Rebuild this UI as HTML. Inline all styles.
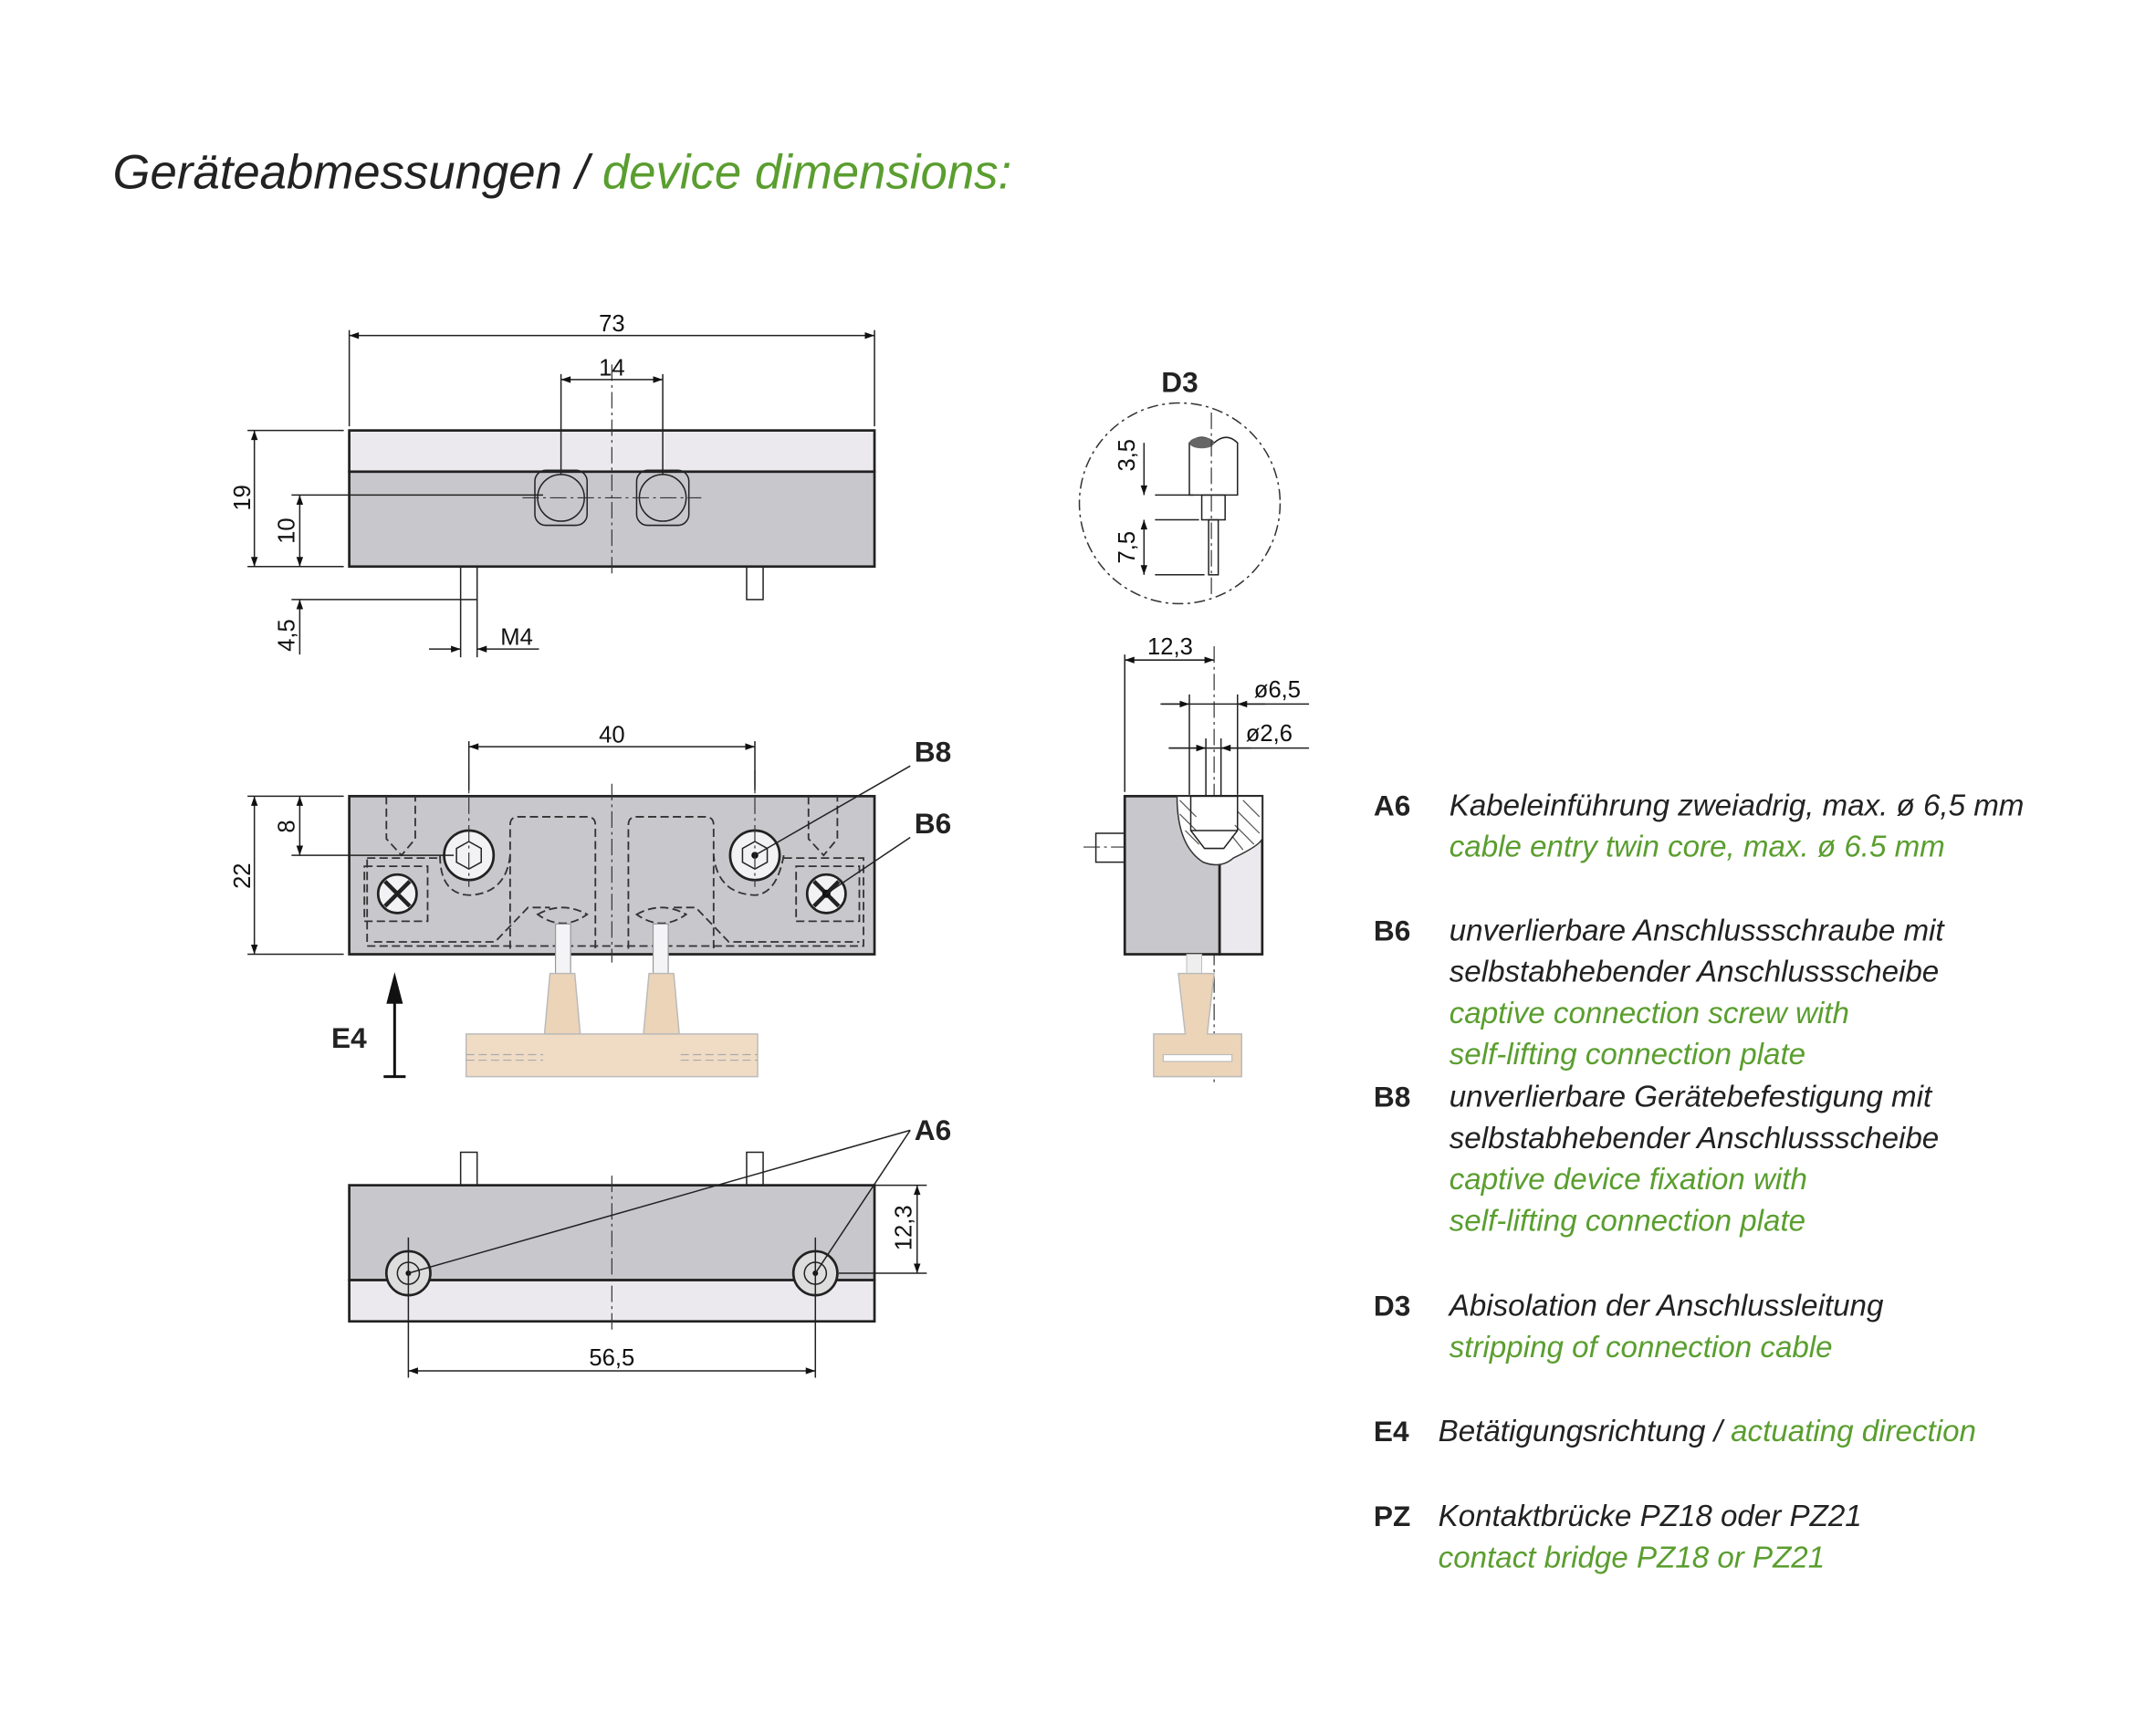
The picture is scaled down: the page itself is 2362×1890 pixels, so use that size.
<!DOCTYPE html>
<html><head><meta charset="utf-8"><style>
html,body{margin:0;padding:0;background:#fff;}
svg{display:block;}
.d{font-family:"Liberation Sans",sans-serif;font-size:17px;fill:#111;}
.k{font-family:"Liberation Sans",sans-serif;font-size:21px;font-weight:bold;fill:#222;}
.lg{font-family:"Liberation Sans",sans-serif;font-size:22px;font-style:italic;fill:#222;}
.gr{fill:#5a9e2f;}
.ol{stroke:#222;stroke-width:1.8;}
.th{stroke:#222;stroke-width:1;fill:none;}
.ds{stroke:#333;stroke-width:1.2;fill:none;stroke-dasharray:6 3;}
.cl{stroke:#333;stroke-width:0.8;fill:none;stroke-dasharray:12 3 2 3;}
</style></head><body>
<svg width="2362" height="1890" viewBox="0 0 1568 1254.5" xmlns="http://www.w3.org/2000/svg">
<defs>
<marker id="a" viewBox="0 0 10 10" refX="10" refY="5" markerWidth="10" markerHeight="7" orient="auto-start-reverse" markerUnits="userSpaceOnUse"><path d="M0,1.5 L10,5 L0,8.5z" fill="#111"/></marker>
</defs>
<text x="82" y="137" font-family="Liberation Sans, sans-serif" font-size="35" font-style="italic" fill="#222">Geräteabmessungen / <tspan class="gr">device dimensions:</tspan></text>

<!-- TOP VIEW -->
<rect x="254" y="313" width="382" height="30" fill="#ebe9ee" class="ol"/>
<rect x="254" y="343" width="382" height="69" fill="#c8c7cc" class="ol"/>
<rect x="389" y="342" width="38" height="40" rx="8" fill="#e4e3e8" class="th"/>
<rect x="463" y="342" width="38" height="40" rx="8" fill="#e4e3e8" class="th"/>
<circle cx="408" cy="362" r="17" fill="#f2f2f4" class="th"/>
<circle cx="482" cy="362" r="17" fill="#f2f2f4" class="th"/>
<rect x="335" y="412" width="12" height="24" fill="#e0e0e3" class="th"/>
<rect x="543" y="412" width="12" height="24" fill="#e0e0e3" class="th"/>
<line x1="445" y1="265" x2="445" y2="420" class="cl"/>
<line x1="380" y1="362" x2="510" y2="362" class="cl"/>
<line x1="254" y1="240" x2="254" y2="310" class="th"/><line x1="636" y1="240" x2="636" y2="310" class="th"/>
<line x1="254" y1="244" x2="636" y2="244" class="th" marker-start="url(#a)" marker-end="url(#a)"/>
<text x="445" y="241" class="d" text-anchor="middle">73</text>
<line x1="408" y1="272" x2="408" y2="345" class="th"/><line x1="482" y1="272" x2="482" y2="345" class="th"/>
<line x1="408" y1="276" x2="482" y2="276" class="th" marker-start="url(#a)" marker-end="url(#a)"/>
<text x="445" y="273" class="d" text-anchor="middle">14</text>
<line x1="180" y1="313" x2="250" y2="313" class="th"/><line x1="180" y1="412" x2="250" y2="412" class="th"/>
<line x1="185" y1="313" x2="185" y2="412" class="th" marker-start="url(#a)" marker-end="url(#a)"/>
<text transform="translate(182,362) rotate(-90)" class="d" text-anchor="middle">19</text>
<line x1="212" y1="360" x2="395" y2="360" class="th"/>
<line x1="218" y1="360" x2="218" y2="412" class="th" marker-start="url(#a)" marker-end="url(#a)"/>
<text transform="translate(214,386) rotate(-90)" class="d" text-anchor="middle">10</text>
<line x1="212" y1="436" x2="335" y2="436" class="th"/>
<line x1="218" y1="436" x2="218" y2="476" class="th" marker-start="url(#a)"/>
<text transform="translate(214,462) rotate(-90)" class="d" text-anchor="middle">4,5</text>
<line x1="335" y1="436" x2="335" y2="478" class="th"/><line x1="347" y1="436" x2="347" y2="478" class="th"/>
<line x1="312" y1="472" x2="335" y2="472" class="th" marker-end="url(#a)"/>
<line x1="392" y1="472" x2="347" y2="472" class="th" marker-end="url(#a)"/>
<text x="364" y="469" class="d">M4</text>

<!-- MIDDLE VIEW -->
<rect x="254" y="579" width="382" height="115" fill="#c8c7cc" class="ol"/>
<path d="M371,690 V600 Q371,594 377,594 H427 Q433,594 433,600 V690" class="ds"/>
<path d="M457,690 V600 Q457,594 463,594 H513 Q519,594 519,600 V690" class="ds"/>
<path d="M320,622 Q320,650 341,651 Q368,650 371,622" class="ds"/>
<path d="M570,622 Q565,650 549,651 Q522,650 519,622" class="ds"/>
<path d="M281,579 V610 L292,622 L302,610 V579" class="ds"/>
<path d="M588,579 V610 L599,622 L609,610 V579" class="ds"/>
<path d="M267,624 H320 M570,624 H628 V688 H267 V624" class="ds"/>
<path d="M272,685 H360 L384,660 H400 M490,660 H506 L530,685 H625" class="ds"/>
<rect x="265" y="630" width="46" height="40" class="ds"/>
<rect x="579" y="630" width="46" height="40" class="ds"/>
<circle cx="341" cy="622" r="18" fill="#f2f2f4" class="ol"/>
<polygon points="341,612 350,617 350,627 341,632 332,627 332,617" fill="none" class="th"/>
<circle cx="549" cy="622" r="18" fill="#f2f2f4" class="ol"/>
<polygon points="549,612 558,617 558,627 549,632 540,627 540,617" fill="none" class="th"/>
<circle cx="549" cy="622" r="2.5" fill="#111"/>
<circle cx="289" cy="650" r="14" fill="#f2f2f4" class="ol"/>
<path d="M280,641 L298,659 M298,641 L280,659" stroke="#222" stroke-width="3"/>
<circle cx="601" cy="650" r="14" fill="#f2f2f4" class="ol"/>
<path d="M592,641 L610,659 M610,641 L592,659" stroke="#222" stroke-width="3"/>
<circle cx="601" cy="650" r="3" fill="#111"/>
<path d="M391,665 Q409,655 427,665 Q409,678 391,665z" fill="#c8c7cc" class="ds"/>
<path d="M463,665 Q481,655 499,665 Q481,678 463,665z" fill="#c8c7cc" class="ds"/>
<rect x="404" y="672" width="11" height="36" fill="#f4f4f6" stroke="#999" stroke-width="0.8"/>
<rect x="475" y="672" width="11" height="36" fill="#f4f4f6" stroke="#999" stroke-width="0.8"/>
<line x1="445" y1="570" x2="445" y2="700" class="cl"/>
<line x1="341" y1="560" x2="341" y2="645" class="cl"/><line x1="549" y1="560" x2="549" y2="645" class="cl"/>
<path d="M400,708 H418 L422,752 H396z" fill="#ecd4b8" stroke="#bbb" stroke-width="1"/>
<path d="M472,708 H490 L494,752 H468z" fill="#ecd4b8" stroke="#bbb" stroke-width="1"/>
<rect x="339" y="752" width="212" height="31" fill="#f0dcc5" stroke="#bbb" stroke-width="1"/>
<path d="M339,767 H395 M339,771 H395 M495,767 H551 M495,771 H551" stroke="#aaa" stroke-width="0.8" stroke-dasharray="6 3"/>
<line x1="287" y1="783" x2="287" y2="725" stroke="#111" stroke-width="2"/>
<path d="M281,730 L287,707 L293,730z" fill="#111"/>
<line x1="279" y1="783" x2="295" y2="783" stroke="#111" stroke-width="2"/>
<text x="241" y="762" class="k">E4</text>
<line x1="341" y1="539" x2="341" y2="575" class="th"/><line x1="549" y1="539" x2="549" y2="575" class="th"/>
<line x1="341" y1="543" x2="549" y2="543" class="th" marker-start="url(#a)" marker-end="url(#a)"/>
<text x="445" y="540" class="d" text-anchor="middle">40</text>
<line x1="180" y1="579" x2="250" y2="579" class="th"/><line x1="180" y1="694" x2="250" y2="694" class="th"/>
<line x1="185" y1="579" x2="185" y2="694" class="th" marker-start="url(#a)" marker-end="url(#a)"/>
<text transform="translate(182,637) rotate(-90)" class="d" text-anchor="middle">22</text>
<line x1="212" y1="622" x2="330" y2="622" class="th"/>
<line x1="218" y1="579" x2="218" y2="622" class="th" marker-start="url(#a)" marker-end="url(#a)"/>
<text transform="translate(214,601) rotate(-90)" class="d" text-anchor="middle">8</text>
<text x="665" y="554" class="k">B8</text>
<text x="665" y="606" class="k">B6</text>
<line x1="662" y1="557" x2="549" y2="622" class="th"/>
<line x1="662" y1="609" x2="601" y2="650" class="th"/>

<!-- BOTTOM VIEW -->
<rect x="335" y="838" width="12" height="24" fill="#e0e0e3" class="th"/>
<rect x="543" y="838" width="12" height="24" fill="#e0e0e3" class="th"/>
<rect x="254" y="862" width="382" height="69" fill="#c8c7cc" class="ol"/>
<rect x="254" y="931" width="382" height="30" fill="#ebe9ee" class="ol"/>
<circle cx="297" cy="926" r="16" fill="#ddd" class="ol"/><circle cx="297" cy="926" r="8" fill="#f2f2f4" class="th"/><circle cx="297" cy="926" r="2" fill="#111"/>
<circle cx="593" cy="926" r="16" fill="#ddd" class="ol"/><circle cx="593" cy="926" r="8" fill="#f2f2f4" class="th"/><circle cx="593" cy="926" r="2" fill="#111"/>
<line x1="445" y1="855" x2="445" y2="968" class="cl"/>
<line x1="297" y1="900" x2="297" y2="1002" class="th"/><line x1="593" y1="900" x2="593" y2="1002" class="th"/>
<line x1="297" y1="997" x2="593" y2="997" class="th" marker-start="url(#a)" marker-end="url(#a)"/>
<text x="445" y="993" class="d" text-anchor="middle">56,5</text>
<line x1="636" y1="862" x2="674" y2="862" class="th"/><line x1="610" y1="926" x2="674" y2="926" class="th"/>
<line x1="667" y1="862" x2="667" y2="926" class="th" marker-start="url(#a)" marker-end="url(#a)"/>
<text transform="translate(663,893) rotate(-90)" class="d" text-anchor="middle">12,3</text>
<text x="665" y="829" class="k">A6</text>
<line x1="662" y1="822" x2="297" y2="926" class="th"/>
<line x1="662" y1="822" x2="593" y2="926" class="th"/>

<!-- D3 DETAIL -->
<text x="858" y="285" class="k" text-anchor="middle">D3</text>
<circle cx="858" cy="366" r="73" fill="none" stroke="#333" stroke-width="1" stroke-dasharray="8 3 2 3"/>
<path d="M865,322 Q874,314 883,322 Q892,314 900,322 V360 H865z" fill="#c8c7cc" class="th"/>
<ellipse cx="874" cy="322" rx="9" ry="4" fill="#666"/>
<rect x="874" y="360" width="17" height="18" fill="#c8c7cc" class="th"/>
<rect x="879" y="378" width="7" height="40" fill="#ddd" class="th"/>
<line x1="881" y1="300" x2="881" y2="435" class="cl"/>
<line x1="840" y1="360" x2="868" y2="360" class="th"/><line x1="840" y1="378" x2="872" y2="378" class="th"/><line x1="840" y1="418" x2="876" y2="418" class="th"/>
<line x1="832" y1="322" x2="832" y2="360" class="th" marker-end="url(#a)"/>
<line x1="832" y1="378" x2="832" y2="418" class="th" marker-start="url(#a)" marker-end="url(#a)"/>
<text transform="translate(825,331) rotate(-90)" class="d" text-anchor="middle">3,5</text>
<text transform="translate(825,398) rotate(-90)" class="d" text-anchor="middle">7,5</text>

<!-- SIDE VIEW -->
<line x1="818" y1="476" x2="818" y2="576" class="th"/>
<line x1="818" y1="480" x2="883" y2="480" class="th" marker-start="url(#a)" marker-end="url(#a)"/>
<text x="851" y="476" class="d" text-anchor="middle">12,3</text>
<line x1="883" y1="470" x2="883" y2="790" class="cl"/>
<line x1="844" y1="512" x2="952" y2="512" class="th"/>
<line x1="845" y1="512" x2="865" y2="512" class="th" marker-end="url(#a)"/>
<line x1="920" y1="512" x2="900" y2="512" class="th" marker-end="url(#a)"/>
<line x1="865" y1="505" x2="865" y2="578" class="th"/><line x1="900" y1="505" x2="900" y2="578" class="th"/>
<text x="912" y="507" class="d">ø6,5</text>
<line x1="850" y1="544" x2="952" y2="544" class="th"/>
<line x1="850" y1="544" x2="877" y2="544" class="th" marker-end="url(#a)"/>
<line x1="910" y1="544" x2="888" y2="544" class="th" marker-end="url(#a)"/>
<line x1="877" y1="537" x2="877" y2="620" class="th"/><line x1="888" y1="537" x2="888" y2="620" class="th"/>
<text x="906" y="539" class="d">ø2,6</text>
<rect x="797" y="606" width="21" height="21" fill="#e0e0e3" class="th"/>
<line x1="788" y1="616" x2="818" y2="616" class="cl"/>
<rect x="818" y="579" width="69" height="115" fill="#c8c7cc" class="ol"/>
<rect x="887" y="579" width="31" height="115" fill="#ebe9ee" class="ol"/>
<path d="M856,579 Q856,615 875,627 Q888,632 897,624 Q916,615 918,610 V579z" fill="#fff" stroke="#333" stroke-width="1"/>
<path d="M858,582 L870,594 M858,592 L870,604 M862,604 L872,614 M904,582 L916,594 M900,590 L916,606 M898,600 L912,614 M896,608 L904,618" stroke="#555" stroke-width="0.8"/>
<path d="M866,579 V604 L876,617 H890 L900,604 V579z" fill="#fff" class="th"/>
<line x1="866" y1="604" x2="900" y2="604" class="th"/>
<rect x="863" y="694" width="11" height="14" fill="#eee" stroke="#bbb" stroke-width="0.6"/>
<path d="M857,708 H883 L878,752 H903 V783 H839 V752 H862z" fill="#ecd4b8" stroke="#bbb" stroke-width="1"/>
<rect x="846" y="767" width="50" height="5" fill="#fff" stroke="#bbb" stroke-width="0.8"/>

<!-- LEGEND -->
<text x="999" y="593" class="k">A6</text>
<text x="999" y="684" class="k">B6</text>
<text x="999" y="805" class="k">B8</text>
<text x="999" y="957" class="k">D3</text>
<text x="999" y="1048" class="k">E4</text>
<text x="999" y="1110" class="k">PZ</text>
<text x="1054" y="593" class="lg">Kabeleinführung zweiadrig, max. ø 6,5 mm</text>
<text x="1054" y="623" class="lg gr">cable entry twin core, max. ø 6.5 mm</text>
<text x="1054" y="684" class="lg">unverlierbare Anschlussschraube mit</text>
<text x="1054" y="714" class="lg">selbstabhebender Anschlussscheibe</text>
<text x="1054" y="744" class="lg gr">captive connection screw with</text>
<text x="1054" y="774" class="lg gr">self-lifting connection plate</text>
<text x="1054" y="805" class="lg">unverlierbare Gerätebefestigung mit</text>
<text x="1054" y="835" class="lg">selbstabhebender Anschlussscheibe</text>
<text x="1054" y="865" class="lg gr">captive device fixation with</text>
<text x="1054" y="895" class="lg gr">self-lifting connection plate</text>
<text x="1054" y="957" class="lg">Abisolation der Anschlussleitung</text>
<text x="1054" y="987" class="lg gr">stripping of connection cable</text>
<text x="1046" y="1048" class="lg">Betätigungsrichtung / <tspan class="gr">actuating direction</tspan></text>
<text x="1046" y="1110" class="lg">Kontaktbrücke PZ18 oder PZ21</text>
<text x="1046" y="1140" class="lg gr">contact bridge PZ18 or PZ21</text>
</svg>
</body></html>
